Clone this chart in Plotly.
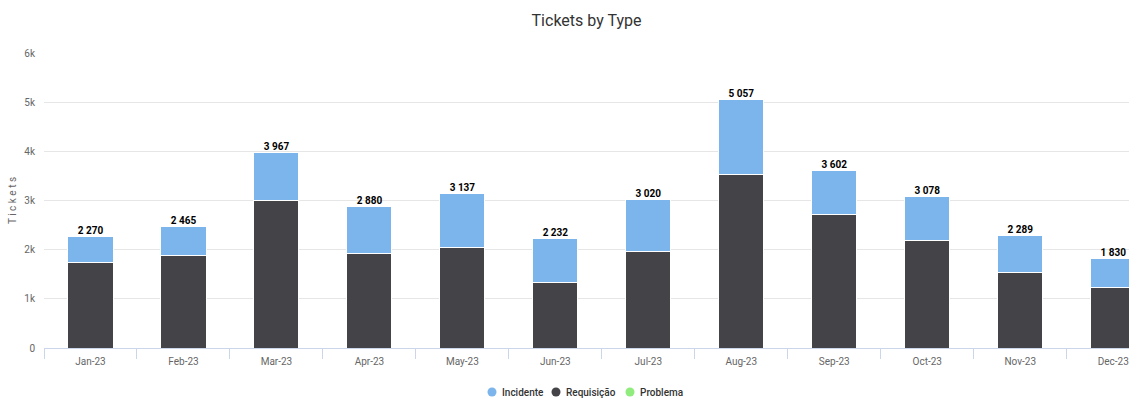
import plotly.graph_objects as go

months = ["Jan-23", "Feb-23", "Mar-23", "Apr-23", "May-23", "Jun-23",
          "Jul-23", "Aug-23", "Sep-23", "Oct-23", "Nov-23", "Dec-23"]
incidente = [535, 575, 967, 955, 1097, 907, 1050, 1527, 882, 888, 759, 600]
requisicao = [1735, 1890, 3000, 1925, 2040, 1325, 1970, 3530, 2720, 2190, 1530, 1230]
problema = [0, 0, 0, 0, 0, 0, 0, 0, 0, 0, 0, 0]
y_ticks = [0, 1000, 2000, 3000, 4000, 5000, 6000]
y_tick_labels = ["0", "1k", "2k", "3k", "4k", "5k", "6k"]
legend_names = ["Incidente", "Requisição", "Problema"]

COLORS = {"Incidente": "#7cb5ec", "Requisição": "#434348", "Problema": "#90ed7d"}
FONT = "Roboto, Liberation Sans Narrow, sans-serif"

W, H = 1129, 398
M_L, M_R, M_T, M_B = 44, 0, 53, 50
PLOT_W, PLOT_H = W - M_L - M_R, H - M_T - M_B

totals = [i + r + p for i, r, p in zip(incidente, requisicao, problema)]
total_labels = [f"{t:,}".replace(",", " ") for t in totals]

fig = go.Figure()
# stacked from the bottom up
for name, vals in [("Problema", problema), ("Requisição", requisicao), ("Incidente", incidente)]:
    fig.add_trace(go.Bar(
        x=months, y=vals, name=name, showlegend=False,
        marker=dict(color=COLORS[name], line=dict(color="#ffffff", width=1)),
        width=0.485,
    ))

# stack totals above each column
fig.add_trace(go.Scatter(
    x=months, y=totals, mode="text", text=total_labels,
    textposition="top center", showlegend=False, hoverinfo="skip",
    textfont=dict(family=FONT, size=10, color="#000000", weight="bold"),
))

# compact legend row under the axis: round swatch followed by its label
def px_to_paper_x(px):
    return (px - M_L) / PLOT_W

def px_to_paper_y(py):
    return (H - M_B - py) / PLOT_H

legend_y = 392
swatch_x = [492, 556, 630]
r = 4.5
for name, cx in zip(legend_names, swatch_x):
    fig.add_shape(
        type="circle", xref="paper", yref="paper",
        x0=px_to_paper_x(cx - r), x1=px_to_paper_x(cx + r),
        y0=px_to_paper_y(legend_y + r), y1=px_to_paper_y(legend_y - r),
        fillcolor=COLORS[name], line=dict(width=0),
    )
    fig.add_annotation(
        text=name, xref="paper", yref="paper",
        x=px_to_paper_x(cx + 8), y=px_to_paper_y(legend_y),
        xanchor="left", yanchor="middle", showarrow=False,
        font=dict(family=FONT, size=10, color="#333333", weight=500),
    )

fig.update_layout(
    width=W, height=H,
    margin=dict(l=M_L, r=M_R, t=M_T, b=M_B),
    barmode="stack", showlegend=False,
    paper_bgcolor="#ffffff", plot_bgcolor="#ffffff",
    font=dict(family=FONT, color="#666666", size=10),
    title=dict(text="Tickets by Type", x=0.5, xref="paper", xanchor="center",
               y=1 - 20 / H, yref="container", yanchor="middle",
               font=dict(family=FONT, size=16, color="#333333")),
    xaxis=dict(
        type="category", range=[-0.5, 11.17],
        showline=True, linecolor="#ccd6eb", linewidth=1,
        ticks="outside", tickson="boundaries", ticklen=10, tickcolor="#ccd6eb",
        tickfont=dict(family=FONT, size=10, color="#666666"),
        ticklabelstandoff=4,
        showgrid=False, fixedrange=True,
    ),
    yaxis=dict(
        range=[0, 6000], tickvals=y_ticks, ticktext=y_tick_labels,
        gridcolor="#e6e6e6", gridwidth=1, zeroline=False,
        tickfont=dict(family=FONT, size=10, color="#666666"),
        ticks="", ticklabelstandoff=8,
        title=dict(text="T i c k e t s", font=dict(family=FONT, size=10, color="#666666"), standoff=5),
    ),
)

fig.write_html("out.html")
